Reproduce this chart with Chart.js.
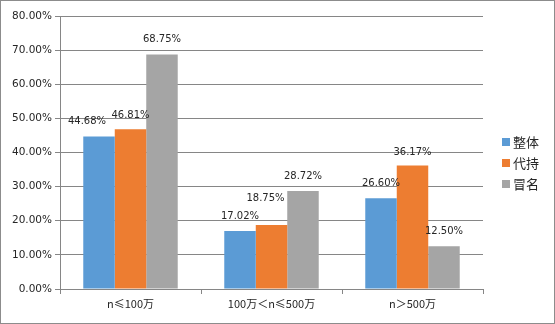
<!DOCTYPE html>
<html>
<head>
<meta charset="utf-8">
<script src="https://cdn.jsdelivr.net/npm/chart.js@4/dist/chart.umd.min.js"></script>
<style>
  html, body { margin: 0; padding: 0; background: #fff; }
  #wrap { width: 555px; height: 324px; position: relative; }
</style>
</head>
<body>
<div id="wrap"><canvas id="c" width="555" height="324"></canvas></div>
<script>
// Categories (size bands) and series values, in percent
const categories = ['n≤100万', '100万＜n≤500万', 'n＞500万'];
const seriesNames = ['整体', '代持', '冒名'];
const wholeValues = [44.68, 17.02, 26.60];
const proxyValues = [46.81, 18.75, 36.17];
const impostorValues = [68.75, 28.72, 12.50];
const yTicks = [0, 10, 20, 30, 40, 50, 60, 70, 80];

const colors = ['#5B9BD5', '#ED7D31', '#A5A5A5'];
const FONT = '"DejaVu Sans", sans-serif';
const CJK = '"Noto Sans CJK SC", sans-serif';

// Nudges for value labels that would otherwise collide: [dataset][index] = [dx, dy]
const labelNudge = [
  [[-12, 0], [0, 0], [0, 0]],
  [[0, 1], [-6, -12], [0, 2]],
  [[0, 0], [0, 0], [0, 0]]
];

const valueLabels = {
  id: 'valueLabels',
  afterDatasetsDraw(chart) {
    const ctx = chart.ctx;
    ctx.save();
    ctx.font = '10px ' + FONT;
    ctx.fillStyle = '#262626';
    ctx.textAlign = 'center';
    ctx.textBaseline = 'middle';
    chart.data.datasets.forEach((ds, di) => {
      chart.getDatasetMeta(di).data.forEach((bar, i) => {
        const n = labelNudge[di][i];
        ctx.fillText(ds.data[i].toFixed(2) + '%', bar.x + n[0], bar.y - 15 + n[1]);
      });
    });
    ctx.restore();
  }
};

const sideLegend = {
  id: 'sideLegend',
  afterDraw(chart) {
    const ctx = chart.ctx;
    ctx.save();
    ctx.font = '13px ' + CJK;
    ctx.textBaseline = 'middle';
    ctx.textAlign = 'left';
    chart.data.datasets.forEach((ds, i) => {
      const y = 142 + i * 21;
      ctx.fillStyle = ds.backgroundColor;
      ctx.fillRect(502, y - 4, 8, 8);
      ctx.fillStyle = '#262626';
      ctx.fillText(ds.label, 513, y);
    });
    // outer frame
    ctx.strokeStyle = '#8c8c8c';
    ctx.lineWidth = 1;
    ctx.strokeRect(0.5, 0.5, chart.width - 1, chart.height - 1);
    ctx.restore();
  }
};

new Chart(document.getElementById('c'), {
  type: 'bar',
  data: {
    labels: categories,
    datasets: [
      { label: seriesNames[0], data: wholeValues, backgroundColor: colors[0] },
      { label: seriesNames[1], data: proxyValues, backgroundColor: colors[1] },
      { label: seriesNames[2], data: impostorValues, backgroundColor: colors[2] }
    ]
  },
  options: {
    responsive: false,
    animation: false,
    devicePixelRatio: 1,
    layout: { padding: { left: 0, top: 16, right: 72, bottom: 0 } },
    datasets: { bar: { categoryPercentage: 0.67, barPercentage: 1.0 } },
    plugins: { legend: { display: false }, tooltip: { enabled: false } },
    scales: {
      x: {
        grid: { drawOnChartArea: false, drawTicks: true, tickLength: 5, offset: true, color: '#868686' },
        border: { display: true, color: '#868686' },
        ticks: { color: '#262626', font: { size: 11, family: CJK }, padding: 3, maxRotation: 0 },
        afterFit(s) { s.height = 35; }
      },
      y: {
        min: 0, max: 80,
        afterBuildTicks(s) { s.ticks = yTicks.map(v => ({ value: v })); },
        grid: { color: '#868686', tickLength: 5 },
        border: { display: true, color: '#868686' },
        ticks: {
          color: '#262626', font: { size: 10.5, family: FONT }, padding: 3,
          callback: v => v.toFixed(2) + '%'
        },
        afterFit(s) { s.width = 60; }
      }
    }
  },
  plugins: [valueLabels, sideLegend]
});
</script>
</body>
</html>
